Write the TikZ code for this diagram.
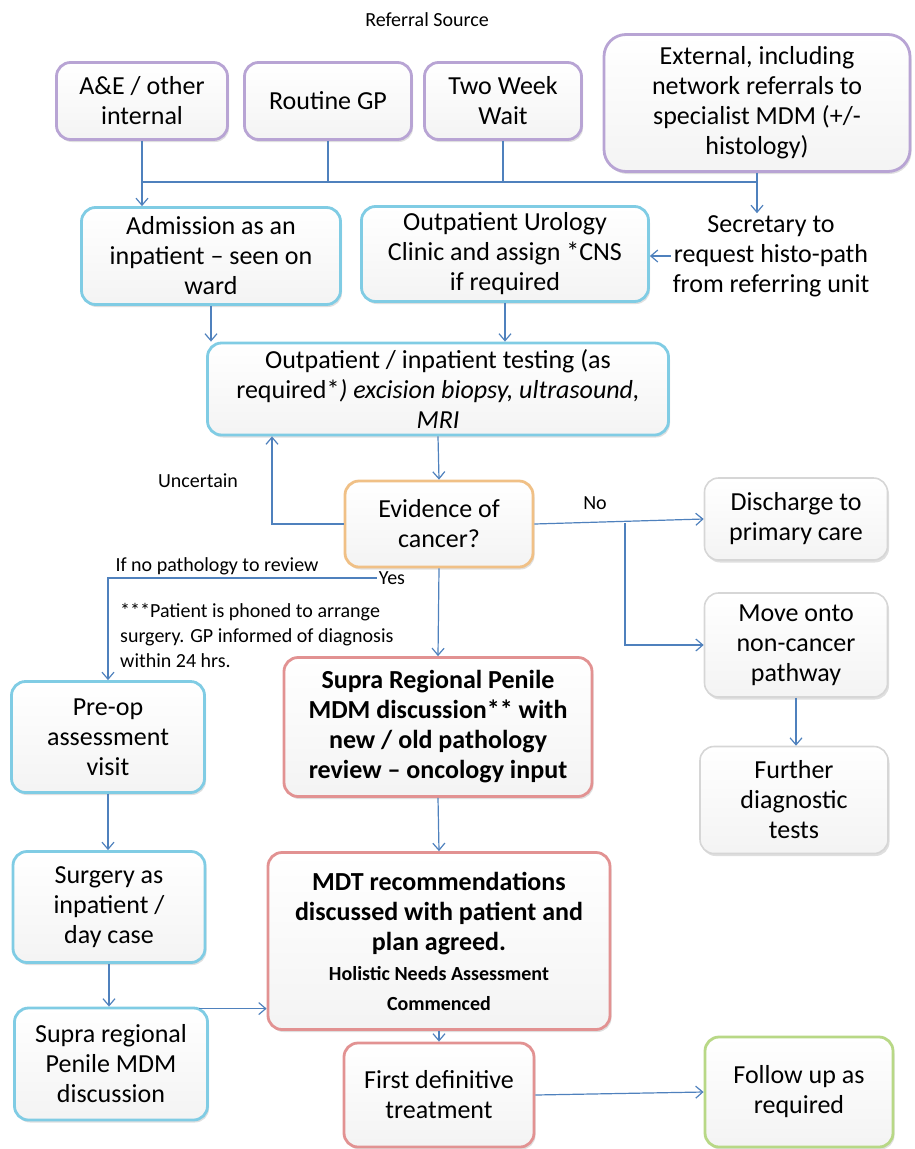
\documentclass[tikz,border=0pt]{standalone}
\usepackage{fontspec}
\setmainfont{Carlito}
\usepackage{xcolor}
\usepackage{tikz}
\usetikzlibrary{arrows.meta,positioning,shadows}
\definecolor{linkblue}{RGB}{79,129,189}
\definecolor{edgepurple}{RGB}{184,164,212}
\definecolor{edgecyan}{RGB}{128,204,228}
\definecolor{edgered}{RGB}{226,146,146}
\definecolor{edgeorange}{RGB}{240,192,134}
\definecolor{edgegreen}{RGB}{184,216,134}
\definecolor{edgegray}{RGB}{214,214,214}
\newcommand{\hnafont}{\fontsize{20}{27}\selectfont}
\tikzset{
  box/.style={rounded corners=14pt, align=center, inner sep=4pt, line width=2.8pt,
    top color=white, bottom color=gray!9,
    drop shadow={shadow xshift=1.5pt, shadow yshift=-2.5pt, opacity=.25},
    font=\fontsize{26}{30}\selectfont},
  srcbox/.style={box, draw=edgepurple},
  stepbox/.style={box, draw=edgecyan},
  mdmbox/.style={box, draw=edgered, font=\bfseries\fontsize{26}{30}\selectfont},
  askbox/.style={box, draw=edgeorange},
  endbox/.style={box, draw=edgegray, line width=1.6pt},
  donebox/.style={box, draw=edgegreen},
  note/.style={align=center, inner sep=2pt, font=\fontsize{20}{25}\selectfont},
  line/.style={draw=linkblue, line width=1.2pt, -{Straight Barb[length=7pt,width=12pt]}},
  plain/.style={draw=linkblue, line width=1.2pt}
}
\begin{document}
\begin{tikzpicture}[x=1pt,y=-1pt]
  \useasboundingbox (0,0) rectangle (915,1149);
  % referral sources
  \node[note] (refsrc) at (427,20) {Referral Source};
  \node[srcbox, minimum width=171pt, minimum height=77pt] (ae) at (142,101) {A\&E / other\\internal};
  \node[srcbox, minimum width=167pt, minimum height=77pt] (gp) at (328,101) {Routine GP};
  \node[srcbox, minimum width=157pt, minimum height=77pt] (tww) at (503,101) {Two Week\\Wait};
  \node[srcbox, rounded corners=22pt, minimum width=306pt, minimum height=137pt] (ext) at (757,103)
    {External, including\\network referrals to\\specialist MDM (+/-\\histology)};
  \coordinate (bus) at (0,182);
  \draw[plain] (ae.south) -- (ae.south |- bus);
  \draw[plain] (gp.south) -- (gp.south |- bus);
  \draw[plain] (tww.south) -- (tww.south |- bus);
  \draw[plain] (ext.south) -- (ext.south |- bus);
  \draw[plain] (ae.south |- bus) -- (ext.south |- bus);

  % first contact
  \node[stepbox, minimum width=259pt, minimum height=97pt] (admit) at (211,256)
    {Admission as an\\inpatient -- seen on\\ward};
  \node[stepbox, minimum width=287pt, minimum height=95pt] (opclinic) at (505,254)
    {Outpatient Urology\\Clinic and assign *CNS\\if required};
  \node[align=center, inner sep=2pt, font=\fontsize{26}{30}\selectfont] (sec) at (771,256)
    {Secretary to\\request histo-path\\from referring unit};
  \draw[line] (ae.south |- bus) -- (ae.south |- admit.north);
  \draw[line] (ext.south |- bus) -- (ext.south |- sec.north);
  \draw[line] (sec.west) -- (sec.west -| opclinic.east);

  % testing and decision
  \node[stepbox, minimum width=461pt, minimum height=92pt] (testing) at (438,389)
    {Outpatient / inpatient testing (as\\required*\textit{) excision biopsy, ultrasound,}\\\textit{MRI}};
  \draw[line] (admit.south) -- (admit.south |- testing.north);
  \draw[line] (opclinic.south) -- (opclinic.south |- testing.north);
  \node[askbox, minimum width=188pt, minimum height=86pt] (evid) at (439,524) {Evidence of\\cancer?};
  \draw[line] (testing.south) -- (evid.north);
  \coordinate (loop) at (272,0);
  \draw[line] (evid.west) -| (loop |- testing.south);
  \node[note] (uncert) at (198,481) {Uncertain};

  % no cancer
  \node[endbox, minimum width=183pt, minimum height=82pt] (discharge) at (796,519) {Discharge to\\primary care};
  \node[endbox, minimum width=183pt, minimum height=104pt] (noncancer) at (796,645) {Move onto\\non-cancer\\pathway};
  \node[endbox, minimum width=188pt, minimum height=107pt] (furtherdx) at (794,800) {Further\\diagnostic\\tests};
  \node[note] (nolbl) at (595,503) {No};
  \coordinate (nosplit) at (625,523);
  \draw[line] (evid.east) -- (discharge.west);
  \draw[line] (nosplit) |- (noncancer.west);
  \draw[line] (noncancer.south) -- (noncancer.south |- furtherdx.north);

  % cancer
  \node[note] (yeslbl) at (392,578) {Yes};
  \node[note] (nopath) at (217,566) {If no pathology to review};
  \node[note, align=left, anchor=west] (phoned) at (118,635)
    {***Patient is phoned to arrange\\surgery. GP informed of diagnosis\\within 24 hrs.};
  \node[mdmbox, minimum width=308pt, minimum height=139pt] (supra) at (438,727)
    {Supra Regional Penile\\MDM discussion** with\\new / old pathology\\review -- oncology input};
  \draw[line] (evid.south) -- (supra.north);
  \node[stepbox, minimum width=193pt, minimum height=111pt] (preop) at (108,737) {Pre-op\\assessment\\visit};
  \draw[line] (yeslbl.west) -| (preop.north);
  \node[stepbox, minimum width=192pt, minimum height=111pt] (surgery) at (109,907) {Surgery as\\inpatient /\\day case};
  \node[stepbox, minimum width=193pt, minimum height=112pt] (supra2) at (111,1064) {Supra regional\\Penile MDM\\discussion};
  \draw[line] (preop.south) -- (preop.south |- surgery.north);
  \draw[line] (surgery.south) -- (surgery.south |- supra2.north);

  \node[mdmbox, minimum width=342pt, minimum height=177pt] (mdt) at (439,941)
    {MDT recommendations\\discussed with patient and\\plan agreed.\\{\hnafont Holistic Needs Assessment}\\{\hnafont Commenced}};
  \draw[line] (supra.south) -- (mdt.north);
  \coordinate (s2) at ([xshift=-10pt,yshift=-2pt]supra2.north east);
  \draw[line] (s2) -- (s2 -| mdt.west);

  \node[box, draw=edgered, minimum width=190pt, minimum height=104pt] (firsttx) at (439,1095) {First definitive\\treatment};
  \node[donebox, minimum width=188pt, minimum height=110pt] (followup) at (799,1092) {Follow up as\\required};
  \draw[line] (mdt.south) -- (firsttx.north);
  \draw[line] (firsttx.east) -- (followup.west);
\end{tikzpicture}
\end{document}
